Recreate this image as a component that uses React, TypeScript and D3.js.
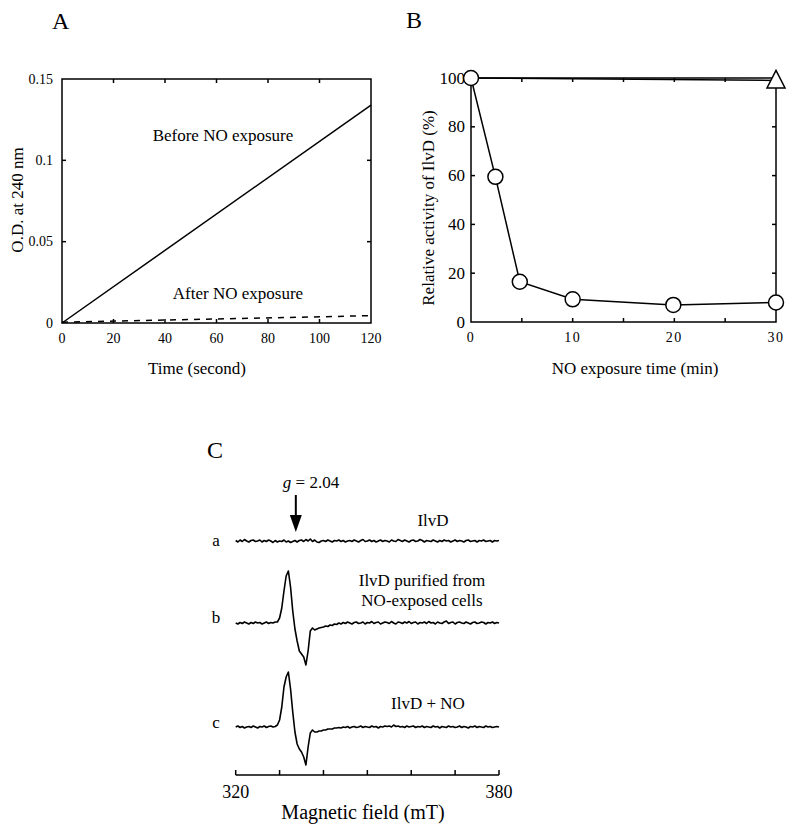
import React from "react";
import * as d3 from "d3";

// Panel A: O.D. at 240 nm vs time
const timeSec = [0, 120];
const odBefore = [0, 0.134];
const odAfter = [0.0005, 0.0045];
const timeTicks = [0, 20, 40, 60, 80, 100, 120];
const odTicks = [0, 0.05, 0.1, 0.15];
const odTickLabels = ["0", "0.05", "0.1", "0.15"];

// Panel B: relative activity vs NO exposure time
const exposureMin = [0, 2.4, 4.8, 10, 19.9, 30];
const activityNO = [100, 59.5, 16.5, 9.3, 7, 8];
const controlMin = [0, 30];
const activityControl = [100, 99];
const minTicks = [0, 5, 10, 15, 20, 25, 30];
const minTickLabels = [0, 10, 20, 30];
const actTicks = [0, 20, 40, 60, 80, 100];

// Panel C: EPR spectra, 0.5 mT sampling
const fieldMT = [
  320, 320.5, 321, 321.5, 322, 322.5, 323, 323.5, 324, 324.5,
  325, 325.5, 326, 326.5, 327, 327.5, 328, 328.5, 329, 329.5,
  330, 330.5, 331, 331.5, 332, 332.5, 333, 333.5, 334, 334.5,
  335, 335.5, 336, 336.5, 337, 337.5, 338, 338.5, 339, 339.5,
  340, 340.5, 341, 341.5, 342, 342.5, 343, 343.5, 344, 344.5,
  345, 345.5, 346, 346.5, 347, 347.5, 348, 348.5, 349, 349.5,
  350, 350.5, 351, 351.5, 352, 352.5, 353, 353.5, 354, 354.5,
  355, 355.5, 356, 356.5, 357, 357.5, 358, 358.5, 359, 359.5,
  360, 360.5, 361, 361.5, 362, 362.5, 363, 363.5, 364, 364.5,
  365, 365.5, 366, 366.5, 367, 367.5, 368, 368.5, 369, 369.5,
  370, 370.5, 371, 371.5, 372, 372.5, 373, 373.5, 374, 374.5,
  375, 375.5, 376, 376.5, 377, 377.5, 378, 378.5, 379, 379.5,
  380,
];
const signalA = [
  0.5, -1, 1, -0.5, 1.5, 0, -1, 0.5, 1, -0.5,
  0, 1, -1, 0.5, -0.5, 1, 0, -1.5, 0.5, -1,
  0, -0.5, 1, -1, 0, -1.5, -0.5, 0.5, -1, 0.5,
  1, -0.5, 1.5, 0, 2, -0.5, 1, -1, -1.5, 0,
  0.5, -0.5, 1, 0, -1, 0.5, 0, 1, -0.5, 0.5,
  -1, 0, 0.5, -0.5, 1, 0, -1, 0.5, 1.5, -0.5,
  0, 1, -0.5, 0.5, -1, 0, 1, -0.5, 0.5, 0,
  -1, 1, 0, -0.5, 1.5, 0.5, -0.5, 1, 0, -1,
  0.5, 1, -0.5, 0, 1.5, 0.5, -1, 0.5, 0, -0.5,
  1, 0, -1, 0.5, -0.5, 1, 0, 0.5, -1, 0,
  1, -0.5, 0.5, 0, -1, 0.5, 1, -0.5, 0, 0.5,
  -1, 0.5, 0, 1, -0.5, 0, 0.5, -1, 0.5, 0,
  0.5,
];
const signalB = [
  0, -1, 0.5, -0.5, 1, 0, -1, 0.5, -0.5, 1,
  0, 0.5, -1, 0, 1, -0.5, 0.5, 0, 1, 1,
  5, 15, 32, 47, 52, 36, 12, -6, -18, -28,
  -31, -34, -42, -28, -8, -5, -7, -6, -5, -4.5,
  -4, -3, -3.5, -2, -2.5, -1, -1.5, 0, -1, 0.5,
  -0.5, 1, 0, -1, 0.5, 1, -0.5, 0, 1, -1,
  0.5, 0, 1.5, -0.5, 0.5, 1, -1, 0, 1, 0.5,
  -0.5, 1.5, 0, -1, 1, 0.5, -0.5, 1, 0, 1.5,
  -0.5, 0.5, 1, -1, 0.5, 0, 1, -0.5, 1.5, 0,
  0.5, -1, 1, 0, -0.5, 1, 2, -0.5, 0.5, 1,
  -1, 0.5, 1, 0, -0.5, 1, 0, -1, 0.5, 1,
  -0.5, 0, 1, 0.5, -1, 0.5, 0, 1, -0.5, 0.5,
  0,
];
const signalC = [
  0, 1, -0.5, 0.5, -1, 0, 0.5, -0.5, 1, 0,
  -1, 0.5, 0, 1, -0.5, 0.5, 1, 0, 0.5, 2,
  7, 20, 40, 50, 55, 38, 15, -5, -17, -22,
  -25, -30, -38, -20, -6, -3, -5, -5, -4, -4,
  -3, -3, -2, -2, -2, -1, -1, -0.5, -1, 0,
  -0.5, 0.5, -1, 0, 0.5, -0.5, 0, 1, -0.5, 0.5,
  0, -0.5, 1, 0, 0.5, -1, 0.5, 0, 1, 0.5,
  1, 0, 2, 0.5, 1, 0, 0.5, -0.5, 1, 0,
  0.5, 1, -0.5, 0.5, 0, 1, -0.5, 0.5, 0, -0.5,
  1, 0, 0.5, -1, 0.5, 0, -0.5, 1, 0, 0.5,
  -0.5, 0, 1, -0.5, 0.5, 0, -1, 0.5, 0, 1,
  -0.5, 0.5, 0, -0.5, 1, 0, 0.5, -0.5, 0, 0.5,
  0,
];
const fieldTicks = [320, 330, 340, 350, 360, 370, 380];
const fieldTickLabels = [320, 380];

const FONT = "'Liberation Serif', 'Times New Roman', serif";
const TICK = 4;

type Lin = d3.ScaleLinear<number, number>;

function Frame({ x, y, xTicks, yTicks }: { x: Lin; y: Lin; xTicks: number[]; yTicks: number[] }) {
  const [x0, x1] = x.range();
  const [y0, y1] = y.range();
  return (
    <g stroke="#000" strokeWidth={1.5} fill="none">
      <rect x={x0} y={y1} width={x1 - x0} height={y0 - y1} />
      {xTicks.slice(1, -1).map((t) => (
        <g key={"x" + t}>
          <line x1={x(t)} x2={x(t)} y1={y0} y2={y0 - TICK} />
          <line x1={x(t)} x2={x(t)} y1={y1} y2={y1 + TICK} />
        </g>
      ))}
      {yTicks.slice(1, -1).map((t) => (
        <g key={"y" + t}>
          <line x1={x0} x2={x0 + TICK} y1={y(t)} y2={y(t)} />
          <line x1={x1} x2={x1 - TICK} y1={y(t)} y2={y(t)} />
        </g>
      ))}
    </g>
  );
}

export default function App() {
  // Panel A
  const xA = d3.scaleLinear().domain([0, 120]).range([62, 371]);
  const yA = d3.scaleLinear().domain([0, 0.15]).range([323, 79]);
  const lineA = d3
    .line<number>()
    .x((_, i) => xA(timeSec[i]));
  const beforePath = lineA.y((v) => yA(v))(odBefore) || "";
  const afterPath = lineA.y((v) => yA(v))(odAfter) || "";

  // Panel B
  const xB = d3.scaleLinear().domain([0, 30]).range([471, 776]);
  const yB = d3.scaleLinear().domain([0, 100]).range([322, 78]);
  const noPath =
    d3
      .line<number>()
      .x((_, i) => xB(exposureMin[i]))
      .y((v) => yB(v))(activityNO) || "";
  const ctrlPath =
    d3
      .line<number>()
      .x((_, i) => xB(controlMin[i]))
      .y((v) => yB(v))(activityControl) || "";

  // Panel C
  const xC = d3.scaleLinear().domain([320, 380]).range([235.7, 499]);
  const yC = d3.scaleLinear().domain([-60, 60]).range([60, -60]);
  const traceLine = d3
    .line<number>()
    .x((_, i) => xC(fieldMT[i]))
    .y((v) => yC(v));
  const traces = [
    { key: "a", data: signalA, base: 541, labelY: 540 },
    { key: "b", data: signalB, base: 623, labelY: 617 },
    { key: "c", data: signalC, base: 727, labelY: 722 },
  ];
  const axisC = 775;
  const arrowX = xC(333.7);

  return (
    <svg
      width={800}
      height={832}
      style={{ position: "absolute", left: 0, top: 0, background: "#fff" }}
      fontFamily={FONT}
      fill="#000"
    >
      <rect width={800} height={832} fill="#fff" />

      {/* ---------- A ---------- */}
      <text x={52} y={29} fontSize={24}>A</text>
      <Frame x={xA} y={yA} xTicks={timeTicks} yTicks={odTicks} />
      {odTicks.map((t, i) => (
        <text key={t} x={53} y={yA(t)} fontSize={14} textAnchor="end" dominantBaseline="central">
          {odTickLabels[i]}
        </text>
      ))}
      {timeTicks.map((t) => (
        <text key={t} x={xA(t)} y={338} fontSize={14} textAnchor="middle" dominantBaseline="central">
          {t}
        </text>
      ))}
      <path d={beforePath} stroke="#000" strokeWidth={1.5} fill="none" />
      <path d={afterPath} stroke="#000" strokeWidth={1.5} fill="none" strokeDasharray="6,6" />
      <text x={223} y={135} fontSize={17} textAnchor="middle" dominantBaseline="central">
        Before NO exposure
      </text>
      <text x={238} y={293} fontSize={17} textAnchor="middle" dominantBaseline="central">
        After NO exposure
      </text>
      <text x={197} y={368} fontSize={17} textAnchor="middle" dominantBaseline="central">
        Time (second)
      </text>
      <text
        transform="translate(17,200) rotate(-90)"
        fontSize={17}
        textAnchor="middle"
        dominantBaseline="central"
      >
        O.D. at 240 nm
      </text>

      {/* ---------- B ---------- */}
      <text x={406} y={28} fontSize={24}>B</text>
      <Frame x={xB} y={yB} xTicks={minTicks} yTicks={actTicks} />
      {actTicks.map((t) => (
        <text key={t} x={465} y={yB(t)} fontSize={17} textAnchor="end" dominantBaseline="central">
          {t}
        </text>
      ))}
      {minTickLabels.map((t) => (
        <text
          key={t}
          x={xB(t)}
          y={337}
          fontSize={14}
          letterSpacing={1.5}
          textAnchor="middle"
          dominantBaseline="central"
        >
          {t}
        </text>
      ))}
      <path d={ctrlPath} stroke="#000" strokeWidth={1.5} fill="none" />
      <path d={noPath} stroke="#000" strokeWidth={1.5} fill="none" />
      {exposureMin.map((t, i) => (
        <circle
          key={t}
          cx={xB(t)}
          cy={yB(activityNO[i])}
          r={7.5}
          fill="#fff"
          stroke="#000"
          strokeWidth={1.5}
        />
      ))}
      <path
        d={`M${xB(controlMin[1])},${yB(activityControl[1]) - 10}l9,17.5h-18z`}
        fill="#fff"
        stroke="#000"
        strokeWidth={1.5}
      />
      <text x={635} y={368} fontSize={17} textAnchor="middle" dominantBaseline="central">
        NO exposure time (min)
      </text>
      <text
        transform="translate(428,208) rotate(-90)"
        fontSize={17}
        textAnchor="middle"
        dominantBaseline="central"
      >
        Relative activity of IlvD (%)
      </text>

      {/* ---------- C ---------- */}
      <text x={207} y={458} fontSize={24}>C</text>
      <text x={311} y={482} fontSize={17} textAnchor="middle" dominantBaseline="central">
        <tspan fontStyle="italic">g</tspan> = 2.04
      </text>
      <line x1={arrowX} x2={arrowX} y1={495} y2={518} stroke="#000" strokeWidth={2} />
      <path d={`M${arrowX - 6},${515}L${arrowX + 6},${515}L${arrowX},${532}Z`} fill="#000" />
      {traces.map((tr) => (
        <g key={tr.key}>
          <text x={216} y={tr.labelY} fontSize={17} textAnchor="middle" dominantBaseline="central">
            {tr.key}
          </text>
          <path
            d={traceLine(tr.data) || ""}
            transform={`translate(0,${tr.base})`}
            stroke="#000"
            strokeWidth={1.6}
            fill="none"
            strokeLinejoin="round"
          />
        </g>
      ))}
      <text x={433} y={520} fontSize={17} textAnchor="middle" dominantBaseline="central">
        IlvD
      </text>
      <text x={422} y={580} fontSize={17} textAnchor="middle" dominantBaseline="central">
        IlvD purified from
      </text>
      <text x={422} y={600} fontSize={17} textAnchor="middle" dominantBaseline="central">
        NO-exposed cells
      </text>
      <text x={428} y={703} fontSize={17} textAnchor="middle" dominantBaseline="central">
        IlvD + NO
      </text>
      <g stroke="#000" strokeWidth={1.5}>
        <line x1={xC(320)} x2={xC(380)} y1={axisC} y2={axisC} />
        {fieldTicks.map((t) => (
          <line key={t} x1={xC(t)} x2={xC(t)} y1={axisC} y2={axisC - 5} />
        ))}
      </g>
      {fieldTickLabels.map((t) => (
        <text key={t} x={xC(t)} y={792} fontSize={18} textAnchor="middle" dominantBaseline="central">
          {t}
        </text>
      ))}
      <text x={363} y={812} fontSize={20} textAnchor="middle" dominantBaseline="central">
        Magnetic field (mT)
      </text>
    </svg>
  );
}
